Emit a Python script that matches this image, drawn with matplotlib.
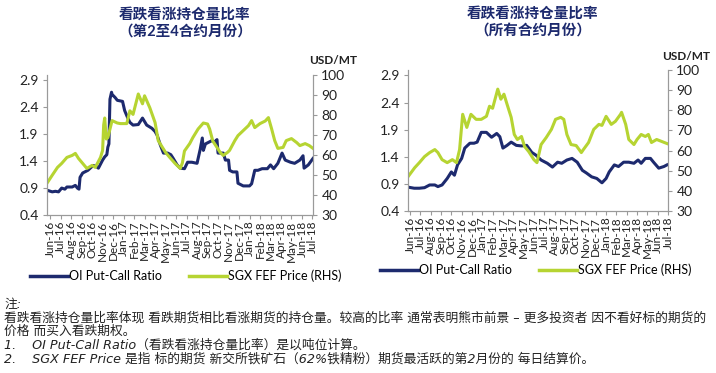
import matplotlib
matplotlib.use('Agg')
import matplotlib.pyplot as plt

plt.rcParams['font.family'] = ['Lato', 'Noto Sans CJK SC', 'DejaVu Sans']

months = ['Jun-16', 'Jul-16', 'Aug-16', 'Sep-16', 'Oct-16', 'Nov-16', 'Dec-16',
          'Jan-17', 'Feb-17', 'Mar-17', 'Apr-17', 'May-17', 'Jun-17', 'Jul-17',
          'Aug-17', 'Sep-17', 'Oct-17', 'Nov-17', 'Dec-17', 'Jan-18', 'Feb-18',
          'Mar-18', 'Apr-18', 'May-18', 'Jun-18', 'Jul-18']

# left chart: 2nd-4th contract months (x = months since Jun-16)
l_ratio_x = [-0.3, 0.2, 0.5, 0.8, 1.1, 1.4, 1.6, 2.1, 2.4, 2.6, 2.75, 2.85, 3.1, 3.6,
             4.1, 4.4, 4.6, 5.0, 5.2, 5.4, 5.5, 5.6, 5.7, 5.85, 5.9, 6.2, 6.4, 6.9,
             7.1, 7.4, 7.6, 7.9, 8.4, 8.8, 9.2, 9.7, 10.0, 10.2, 10.5, 10.8, 11.2,
             11.5, 11.7, 12.1, 12.4, 12.8, 13.1, 13.5, 14.0, 14.3, 14.5, 14.6, 14.8,
             15.1, 15.4, 15.7, 15.9, 16.0, 16.5, 16.7, 17.0, 17.1, 17.4, 17.8, 17.9,
             18.4, 19.0, 19.2, 19.5, 19.8, 20.2, 20.7, 21.0, 21.3, 21.7, 22.1, 22.4,
             22.9, 23.3, 23.8, 24.1, 24.2, 24.6, 25.05]
l_ratio = [0.86, 0.83, 0.84, 0.83, 0.90, 0.88, 0.92, 0.92, 0.95, 0.90, 0.88, 1.10, 1.18, 1.23,
           1.32, 1.30, 1.27, 1.42, 1.48, 1.52, 1.66, 1.72, 2.55, 2.68, 2.64, 2.58, 2.53, 2.51,
           2.34, 2.20, 2.12, 2.07, 2.08, 2.20, 2.07, 2.01, 1.95, 1.88, 1.70, 1.55, 1.55,
           1.52, 1.46, 1.33, 1.27, 1.26, 1.38, 1.38, 1.36, 1.62, 1.83, 1.60, 1.72,
           1.75, 1.78, 1.76, 1.80, 1.55, 1.55, 1.42, 1.42, 1.23, 1.20, 1.20, 0.99,
           0.94, 0.94, 0.98, 1.23, 1.23, 1.26, 1.26, 1.33, 1.26, 1.36, 1.55, 1.42,
           1.38, 1.36, 1.42, 1.50, 1.27, 1.33, 1.45]

l_price_x = [-0.3, 0.2, 0.7, 1.1, 1.6, 2.1, 2.4, 2.7, 3.1, 3.5, 4.0, 4.3, 4.8, 5.0, 5.1,
             5.2, 5.35, 5.5, 5.9, 6.4, 6.7, 7.3, 7.6, 7.9, 8.4, 8.8, 9.0, 9.5, 10.0,
             10.3, 10.7, 11.0, 11.4, 11.9, 12.4, 12.6, 12.8, 13.3, 13.6, 14.1, 14.6,
             15.0, 15.2, 15.5, 15.9, 16.2, 16.5, 16.9, 17.1, 17.6, 17.9, 18.4, 18.9,
             19.2, 19.5, 20.0, 20.5, 20.8, 21.1, 21.4, 21.7, 22.2, 22.5, 23.0, 23.5,
             23.8, 24.3, 24.7, 25.05]
l_price = [45.9, 49.9, 53.8, 55.8, 58.8, 59.8, 60.8, 58.3, 55.8, 53.3, 54.8, 53.8, 58.8, 62.3, 75.0,
           78.5, 68.0, 68.7, 77.2, 76.0, 75.7, 75.7, 82.1, 80.3, 90.5, 85.6, 89.6, 83.6, 76.2,
           67.2, 63.8, 61.3, 58.8, 55.8, 53.3, 56.0, 62.0, 65.7, 68.7, 73.0, 76.0,
           75.5, 73.0, 67.0, 63.8, 61.3, 59.8, 61.3, 62.3, 67.2, 69.7, 72.2, 74.7,
           77.2, 73.7, 75.7, 77.0, 78.7, 73.2, 67.2, 63.3, 63.8, 67.2, 68.2, 66.2,
           64.7, 65.7, 64.7, 63.3]

# right chart: all contract months
r_ratio_x = [-0.2, 0.4, 0.9, 1.4, 1.9, 2.4, 2.7, 3.1, 3.6, 4.0, 4.3, 4.6, 5.0, 5.3, 5.8,
             6.2, 6.5, 6.9, 7.4, 7.9, 8.4, 8.7, 9.0, 9.4, 9.8, 10.3, 10.8, 11.3, 11.8,
             12.2, 12.7, 13.3, 13.8, 14.3, 14.7, 15.2, 15.7, 16.2, 16.7, 17.1, 17.6,
             18.1, 18.6, 19.0, 19.3, 19.8, 20.2, 20.7, 21.2, 21.7, 22.1, 22.4, 22.8,
             23.3, 23.6, 24.1, 24.6, 24.9]
r_ratio = [0.84, 0.82, 0.82, 0.83, 0.88, 0.88, 0.85, 0.88, 1.00, 1.12, 1.06, 1.25, 1.37, 1.56, 1.65,
           1.65, 1.67, 1.85, 1.85, 1.76, 1.83, 1.77, 1.56, 1.61, 1.67, 1.61, 1.60, 1.61, 1.48,
           1.43, 1.34, 1.28, 1.21, 1.30, 1.28, 1.34, 1.37, 1.30, 1.15, 1.10, 1.03,
           1.00, 0.92, 1.00, 1.12, 1.25, 1.22, 1.30, 1.30, 1.28, 1.34, 1.28, 1.37,
           1.37, 1.30, 1.19, 1.22, 1.25]

r_price_x = [-0.2, 0.45, 0.9, 1.4, 1.9, 2.4, 2.7, 3.1, 3.6, 4.1, 4.5, 4.8, 5.1, 5.5, 5.9,
             6.4, 6.9, 7.4, 7.7, 8.0, 8.5, 8.8, 9.1, 9.4, 9.8, 10.1, 10.4, 10.8, 11.1,
             11.5, 12.0, 12.3, 12.7, 13.2, 13.7, 14.1, 14.6, 14.9, 15.2, 15.6, 16.1,
             16.6, 16.8, 17.3, 17.8, 18.3, 18.6, 19.0, 19.5, 19.9, 20.4, 20.5, 20.9,
             21.2, 21.7, 22.0, 22.4, 22.8, 23.1, 23.4, 23.9, 24.4, 24.9]
r_price = [47.0, 51.5, 54.0, 57.0, 59.0, 60.5, 59.0, 55.5, 54.0, 55.5, 54.0, 60.5, 78.0, 71.5, 78.0,
           75.5, 75.5, 77.0, 82.0, 81.0, 90.5, 85.5, 88.0, 83.0, 76.5, 68.0, 65.5, 67.0, 62.0,
           59.5, 55.5, 54.0, 63.0, 66.5, 70.5, 75.5, 76.5, 75.5, 68.0, 63.0, 62.5,
           59.0, 60.5, 64.0, 70.5, 73.0, 72.5, 77.0, 73.0, 74.5, 78.0, 79.0, 73.0,
           65.5, 63.0, 65.5, 68.0, 67.0, 68.0, 64.0, 65.5, 64.5, 63.5]

left_ticks = [0.4, 0.9, 1.4, 1.9, 2.4, 2.9]
right_ticks = [30, 40, 50, 60, 70, 80, 90, 100]

navy = '#1d2a6e'
lime = '#b6d432'
axis_grey = '#9a9a9a'

fig = plt.figure(figsize=(7.16, 3.73), dpi=100)


def panel(rect, rx, ry, px, py):
    ax = fig.add_axes(rect)
    ax2 = ax.twinx()
    ax.plot(rx, ry, color=navy, lw=2.2, label='OI Put-Call Ratio')
    ax2.plot(px, py, color=lime, lw=2.2, label='SGX FEF Price (RHS)')
    ax.set_xlim(min(rx[0], px[0]), max(rx[-1], px[-1]))
    ax.set_ylim(0.4, 3.0)
    ax.set_yticks(left_ticks)
    ax.set_yticklabels(['%.1f' % t for t in left_ticks])
    ax2.set_ylim(30, 100)
    ax2.set_yticks(right_ticks)
    ax.set_xticks(range(len(months)))
    ax.set_xticklabels(months, rotation=90, fontsize=8.5, linespacing=0.9)
    for a in (ax, ax2):
        a.spines['top'].set_visible(False)
        for s in ('left', 'right', 'bottom'):
            a.spines[s].set_color(axis_grey)
            a.spines[s].set_linewidth(0.8)
        a.tick_params(axis='y', labelsize=10, colors=axis_grey, labelcolor='#222222',
                      length=3, width=0.8, pad=3)
    ax.tick_params(axis='x', colors=axis_grey, labelcolor='#222222', length=3,
                   width=0.8, pad=1)
    return ax, ax2


axL, axL2 = panel([47 / 716, 1 - 215 / 373, 266 / 716, 140 / 373],
                  l_ratio_x, l_ratio, l_price_x, l_price)
axR, axR2 = panel([408 / 716, 1 - 211 / 373, 260 / 716, 141 / 373],
                  r_ratio_x, r_ratio, r_price_x, r_price)

for ax, ax2, cx, cy in ((axL, axL2, 186, 276), (axR, axR2, 536, 270)):
    h1, l1 = ax.get_legend_handles_labels()
    h2, l2 = ax2.get_legend_handles_labels()
    leg = fig.legend(h1 + h2, l1 + l2, loc='center', ncol=2, frameon=False,
                     bbox_to_anchor=(cx / 716, 1 - cy / 373), fontsize=9,
                     handlelength=3.0, handletextpad=0.1, columnspacing=2.2)
    for line in leg.get_lines():
        line.set_linewidth(2.5)

title_font = dict(ha='center', va='center', fontsize=10.5, fontweight='bold', color=navy)
fig.text(185 / 716, 1 - 15 / 373, '看跌看涨持仓量比率', **title_font)
fig.text(185 / 716, 1 - 32 / 373, '（第2至4合约月份）', **title_font)
fig.text(533 / 716, 1 - 14 / 373, '看跌看涨持仓量比率', **title_font)
fig.text(533 / 716, 1 - 32 / 373, '（所有合约月份）', **title_font)

fig.text(333 / 716, 1 - 60 / 373, 'USD/MT', ha='center', va='center', fontsize=8.5,
         fontweight='bold', color='#222222')
fig.text(686 / 716, 1 - 57 / 373, 'USD/MT', ha='center', va='center', fontsize=8.5,
         fontweight='bold', color='#222222')

note_font = dict(ha='left', va='center', fontsize=9.2, color='#222222',
                 family=['DejaVu Sans', 'Noto Sans CJK SC'])
fig.text(4 / 716, 1 - 304 / 373, '注:', style='italic', **note_font)
fig.text(4 / 716, 1 - 318 / 373,
         '看跌看涨持仓量比率体现 看跌期货相比看涨期货的持仓量。较高的比率 通常表明熊市前景 – 更多投资者 因不看好标的期货的',
         **note_font)
fig.text(4 / 716, 1 - 331 / 373, '价格 而买入看跌期权。', **note_font)
fig.text(4 / 716, 1 - 345 / 373, '1.    OI Put-Call Ratio（看跌看涨持仓量比率）是以吨位计算。',
         style='italic', **note_font)
fig.text(4 / 716, 1 - 359 / 373,
         '2.    SGX FEF Price 是指 标的期货 新交所铁矿石（62%铁精粉）期货最活跃的第2月份的 每日结算价。',
         style='italic', **note_font)

fig.savefig('out.png', dpi=100)
